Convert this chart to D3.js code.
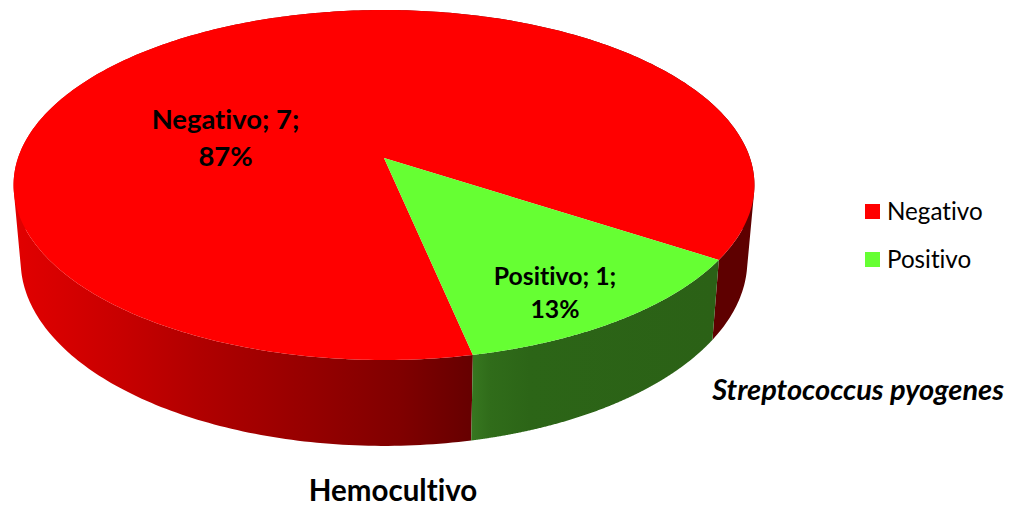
<!DOCTYPE html>
<html><head><meta charset="utf-8">
<script src="https://cdn.jsdelivr.net/npm/d3@7"></script>
<style>html,body{margin:0;padding:0;background:#fff}svg{display:block}text{font-family:Lato,Carlito,sans-serif;fill:#000;font-variant-ligatures:none;font-feature-settings:"liga" 0,"clig" 0}</style>
</head><body><svg id="c" width="1010" height="505"></svg>
<script>
const categories = ["Negativo", "Positivo"];
const values = [7, 1];
const percentLabels = ["87%", "13%"];
const colors = ["#ff0000", "#66ff33"];
const chartTitle = "Hemocultivo";
const subTitle = "Streptococcus pyogenes";

const svg = d3.select("#c");
const rad = d3.scaleLinear().domain([0, 360]).range([0, 2 * Math.PI]);
const startDeg = 168.1;
const pie = d3.pie().sort(null).value(d => d).startAngle(rad(startDeg)).endAngle(rad(startDeg + 360));
const arcs = pie(values);

// perspective projection of the disc (top and bottom faces)
const cx = 384, persp = -0.1543;
const topFace = {a: 158, b: 146.46, c: 366};
const botFace = {a: 232, b: 145.1, c: 359};
function project(f, ang, r = 1) {
  const u = r * Math.sin(ang), v = -r * Math.cos(ang), w = 1 + persp * v;
  return [cx + f.c * u / w, (f.a + f.b * v) / w];
}
const samples = (s, e) => d3.range(0, 361).map(i => s + (e - s) * i / 360);
const line = d3.line();

const defs = svg.append("defs");
const grads = [
  [[13, "#e20000"], [120, "#c80000"], [200, "#b00000"], [300, "#980000"], [400, "#800000"], [472, "#660000"], [480, "#5e0000"], [754, "#5e0000"]],
  [[472, "#377720"], [490, "#306c1a"], [530, "#2c6517"], [712, "#2b6116"]]
];
grads.forEach((stops, i) => {
  const x0 = stops[0][0], x1 = stops[stops.length - 1][0];
  const g = defs.append("linearGradient").attr("id", "wall" + i)
    .attr("gradientUnits", "userSpaceOnUse").attr("x1", x0).attr("x2", x1).attr("y1", 0).attr("y2", 0);
  stops.forEach(s => g.append("stop").attr("offset", (s[0] - x0) / (x1 - x0)).attr("stop-color", s[1]));
});

// side walls: swept quads between the two faces, all wound the same way
arcs.forEach((d, i) => {
  const a = samples(d.startAngle, d.endAngle);
  let path = "";
  for (let k = 0; k < a.length - 1; k++) {
    let q = [project(topFace, a[k]), project(topFace, a[k + 1]), project(botFace, a[k + 1]), project(botFace, a[k])];
    if (d3.polygonArea(q) < 0) q = q.reverse();
    path += line(q) + "Z";
  }
  svg.append("path").attr("d", path).attr("fill", `url(#wall${i})`).attr("fill-rule", "nonzero");
});

// top face
arcs.forEach((d, i) => {
  const pts = [project(topFace, 0, 0)].concat(samples(d.startAngle, d.endAngle).map(t => project(topFace, t)));
  svg.append("path").attr("d", line(pts) + "Z").attr("fill", colors[i]);
});

// data labels
const labelAnchors = [[225.5, 129, 166, 27.4], [555, 285, 318, 24.8]];
arcs.forEach((d, i) => {
  const l = labelAnchors[i];
  svg.append("text").attr("x", l[0]).attr("y", l[1]).attr("text-anchor", "middle")
    .attr("font-size", l[3]).attr("font-weight", 700)
    .text(`${categories[i]}; ${values[i]};`);
  svg.append("text").attr("x", l[0]).attr("y", l[2]).attr("text-anchor", "middle")
    .attr("font-size", l[3]).attr("font-weight", 700)
    .text(percentLabels[i]);
});

// legend
const legendY = d3.scalePoint().domain(categories).range([204, 252]);
categories.forEach((c, i) => {
  svg.append("rect").attr("x", 865).attr("y", legendY(c)).attr("width", 15).attr("height", 15).attr("fill", colors[i]);
  svg.append("text").attr("x", 887).attr("y", legendY(c) + 15.5).attr("font-size", 24.2).attr("fill", "#111").text(c);
});

// titles
svg.append("text").attr("x", 393).attr("y", 501).attr("text-anchor", "middle")
  .attr("font-size", 29.5).attr("font-weight", 700).text(chartTitle);
svg.append("text").attr("x", 1004).attr("y", 400).attr("text-anchor", "end")
  .attr("font-size", 29).attr("font-weight", 700).attr("font-style", "italic").text(subTitle);
</script></body></html>
